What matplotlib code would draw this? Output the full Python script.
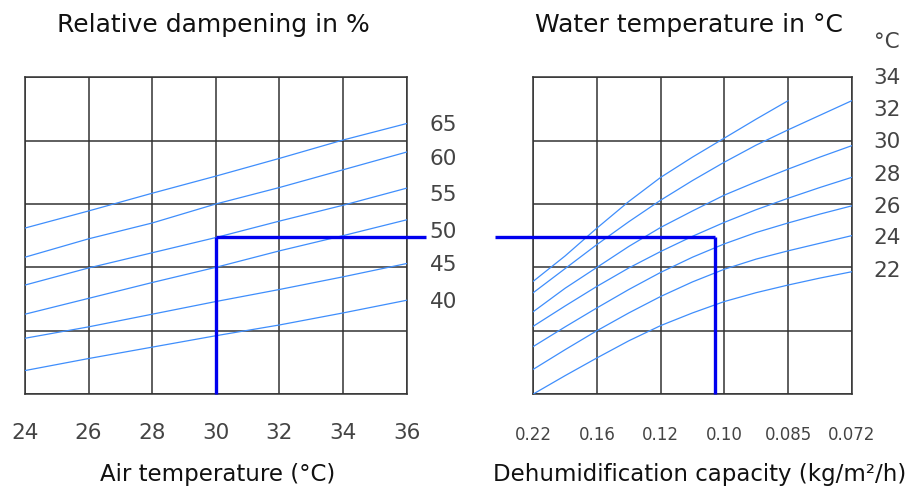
import matplotlib
matplotlib.use("Agg")
import matplotlib.pyplot as plt

# ---------------- data ----------------
air_temp = [24, 26, 28, 30, 32, 34, 36]
rh_labels = ["65", "60", "55", "50", "45", "40"]
rh_65 = [2.62, 2.89, 3.17, 3.44, 3.72, 4.01, 4.27]
rh_60 = [2.16, 2.45, 2.70, 3.00, 3.26, 3.54, 3.82]
rh_55 = [1.72, 1.99, 2.23, 2.47, 2.73, 2.98, 3.25]
rh_50 = [1.26, 1.51, 1.76, 2.00, 2.26, 2.50, 2.75]
rh_45 = [0.88, 1.06, 1.26, 1.46, 1.65, 1.85, 2.06]
rh_40 = [0.37, 0.56, 0.74, 0.92, 1.09, 1.28, 1.48]
rh_label_y = [4.25, 3.71, 3.14, 2.56, 2.04, 1.45]

capacity_labels = ["0.22", "0.16", "0.12", "0.10", "0.085", "0.072"]
capacity_pos = [0, 1, 2, 3, 4, 5]
cap_x = [0, 0.5, 1, 1.5, 2, 2.5, 3, 3.5, 4, 4.5, 5]
water_labels = ["°C", "34", "32", "30", "28", "26", "24", "22"]
water_label_y = [5.56, 4.99, 4.48, 3.98, 3.46, 2.95, 2.46, 1.94]
wt_34 = [1.78, 2.18, 2.62, 3.04, 3.42, 3.74, 4.04, 4.34, 4.63]
wt_32 = [1.60, 1.98, 2.36, 2.72, 3.06, 3.37, 3.66, 3.93, 4.17, 4.40, 4.63]
wt_30 = [1.30, 1.67, 2.00, 2.33, 2.63, 2.89, 3.14, 3.35, 3.55, 3.74, 3.92]
wt_28 = [1.07, 1.39, 1.70, 1.99, 2.25, 2.49, 2.71, 2.91, 3.09, 3.26, 3.42]
wt_26 = [0.75, 1.06, 1.36, 1.65, 1.92, 2.16, 2.37, 2.55, 2.70, 2.84, 2.97]
wt_24 = [0.39, 0.70, 1.00, 1.28, 1.54, 1.77, 1.97, 2.13, 2.26, 2.38, 2.50]
wt_22 = [0.00, 0.29, 0.57, 0.84, 1.08, 1.28, 1.46, 1.60, 1.72, 1.83, 1.93]

# example reading
ex_air = 30
ex_level = 2.48
ex_cap_pos = 2.85

# ---------------- style ----------------
W, H = 918, 491
CURVE = "#3f8efc"
REF = "#0000ee"
GRID = "#333333"
TICK = "#444444"
FONT = "DejaVu Sans"

fig = plt.figure(figsize=(W / 100, H / 100), dpi=100)

def fx(px):
    return px / W

def fy(py):
    return 1 - py / H

axL = fig.add_axes([fx(25), fy(394), (406.7 - 25) / W, (394 - 77.3) / H])
axR = fig.add_axes([fx(533.3), fy(394), (851.7 - 533.3) / W, (394 - 77.3) / H])

for ax in (axL, axR):
    ax.set_ylim(0, 5)
    ax.set_yticks([0, 1, 2, 3, 4, 5])
    ax.tick_params(axis="y", length=0, labelleft=False)
    ax.tick_params(axis="x", length=0)
    ax.grid(True, color=GRID, linewidth=1.1)
    ax.set_axisbelow(True)
    for s in ax.spines.values():
        s.set_color(GRID)
        s.set_linewidth(1.1)

# left panel
axL.set_xlim(24, 36)
axL.set_xticks(air_temp)
axL.set_xticklabels([str(t) for t in air_temp], fontsize=15.5, color=TICK, family=FONT)
axL.tick_params(axis="x", pad=21)
for curve in (rh_65, rh_60, rh_55, rh_50, rh_45, rh_40):
    axL.plot(air_temp, curve, color=CURVE, linewidth=0.9, zorder=3)
for lab, y in zip(rh_labels, rh_label_y):
    axL.text(37.15, y, lab, ha="center", va="center", fontsize=15.5, color=TICK,
             family=FONT, clip_on=False)
axL.plot([ex_air, ex_air], [0, ex_level], color=REF, linewidth=2.4, zorder=5,
         clip_on=False, solid_capstyle="butt")
axL.plot([ex_air, 36.6], [ex_level, ex_level], color=REF, linewidth=2.4, zorder=5,
         clip_on=False, solid_capstyle="butt")

# right panel
axR.set_xlim(0, 5)
axR.set_xticks(capacity_pos)
axR.set_xticklabels(capacity_labels, fontsize=12, color=TICK, family=FONT)
axR.tick_params(axis="x", pad=23)
axR.plot(cap_x[:len(wt_34)], wt_34, color=CURVE, linewidth=0.9, zorder=3)
for curve in (wt_32, wt_30, wt_28, wt_26, wt_24, wt_22):
    axR.plot(cap_x, curve, color=CURVE, linewidth=0.9, zorder=3)
for lab, y in zip(water_labels, water_label_y):
    axR.text(5.55, y, lab, ha="center", va="center", fontsize=15.5, color=TICK,
             family=FONT, clip_on=False)
axR.plot([-0.6, ex_cap_pos], [ex_level, ex_level], color=REF, linewidth=2.4, zorder=5,
         clip_on=False, solid_capstyle="butt")
axR.plot([ex_cap_pos, ex_cap_pos], [ex_level, 0], color=REF, linewidth=2.4, zorder=5,
         clip_on=False, solid_capstyle="butt")

# titles and axis labels
fig.text(fx(213), fy(25), "Relative dampening in %", ha="center", va="center",
         fontsize=18, color="#111111", family=FONT)
fig.text(fx(689), fy(25), "Water temperature in °C", ha="center", va="center",
         fontsize=18, color="#111111", family=FONT)
fig.text(fx(218), fy(475), "Air temperature (°C)", ha="center", va="center",
         fontsize=16.5, color="#111111", family=FONT)
fig.text(fx(700), fy(475), "Dehumidification capacity (kg/m²/h)", ha="center",
         va="center", fontsize=16.5, color="#111111", family=FONT)

fig.savefig("out.png", dpi=100, facecolor="white")
